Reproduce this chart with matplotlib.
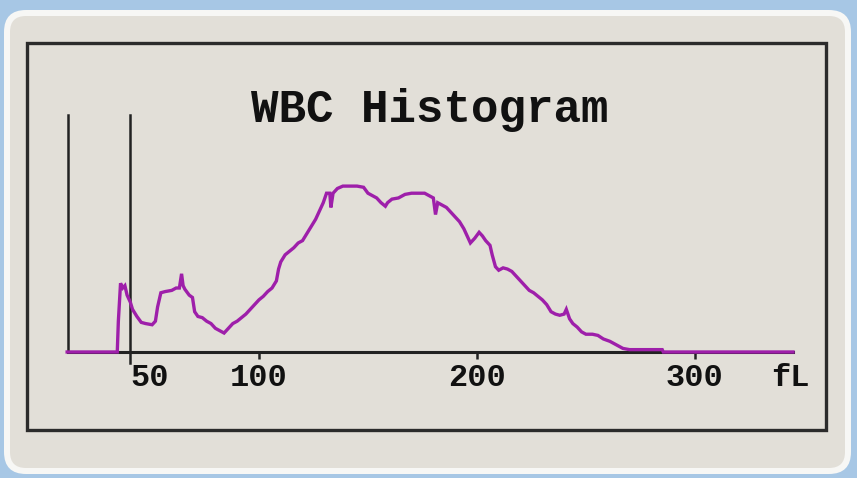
import matplotlib
matplotlib.use('Agg')
import matplotlib.pyplot as plt
from matplotlib.patches import FancyBboxPatch, Rectangle
from matplotlib.transforms import IdentityTransform

# WBC volume distribution (fL vs relative count)
volume_fl = [12, 35, 35.5, 36.5, 37.5, 38.5, 39.5, 41, 42, 44, 46, 48, 51, 52.5,
             53.5, 55, 57, 60, 62, 63.5, 64.5, 65.2, 66, 68, 69.5, 70.5, 72, 74,
             76, 78, 80, 82, 84, 86, 88, 90, 92, 94, 96, 98, 100, 102, 104, 106,
             108, 109, 110, 112, 114, 116, 118, 120, 122, 124, 126, 128, 129.5,
             131, 132.5, 133, 134, 136, 138.5, 142, 145, 148, 150, 152, 154, 156,
             158, 159, 161, 164, 167, 170, 173, 176, 178, 180, 181, 182, 184, 186,
             188, 190, 192, 194, 196, 197, 199, 201, 202.5, 204, 206, 207, 208.5,
             210, 212, 214, 216, 218, 220, 222, 224, 226, 228, 230, 232, 234, 236,
             238, 240, 241, 242.5, 244, 246, 248, 250, 253, 255.5, 258, 261, 263,
             265, 267, 270, 275, 280, 285, 285.5, 345]
counts = [0, 0, 13, 29, 27, 28, 24, 21, 18, 15, 12.5, 12, 11.5, 13,
          19, 25, 25.5, 26, 27, 27, 33, 28, 26.5, 24, 23, 17, 15, 14.5,
          13, 12, 10, 9, 8, 10, 12, 13, 14.5, 16, 18, 20, 22, 23.5, 25.5, 27,
          30, 35, 38, 41, 42.5, 44, 46, 47, 50, 53, 56, 60, 63,
          67, 67, 61, 67, 69, 70, 70, 70, 69.5, 67, 66, 65, 63,
          61.5, 63, 64.5, 65, 66.5, 67, 67, 67, 66, 65, 58, 63, 62, 61,
          59, 57, 55, 52, 48, 46, 48, 50.5, 49, 47, 45, 41, 36,
          34.5, 35.5, 35, 34, 32, 30, 28, 26, 25, 23.5, 22, 20, 17, 16,
          15.5, 16, 18, 14, 12, 10.5, 8.5, 7.5, 7.5, 7, 5.5, 4.5, 3.5,
          2.5, 1.5, 1, 1, 1, 1, 0, 0]

tick_pos = [50, 100, 200, 300, 344]
tick_labels = ['50', '100', '200', '300', 'fL']
marked_ticks = [100, 200, 300]
x_start, x_end = 12.4, 345
discriminator = 41

W, H = 857, 478
fig = plt.figure(figsize=(W / 100, H / 100), dpi=100)
fig.patch.set_facecolor('#a7c7e5')

# rounded panel with a white rim
px = IdentityTransform()
fig.patches.append(FancyBboxPatch((4, H - 474), 847, 464,
                                  boxstyle='round,pad=0,rounding_size=22',
                                  facecolor='#f7f7f5', edgecolor='none',
                                  transform=px, figure=fig, zorder=-3))
fig.patches.append(FancyBboxPatch((10, H - 468), 835, 452,
                                  boxstyle='round,pad=0,rounding_size=16',
                                  facecolor='#e2dfd8', edgecolor='none',
                                  transform=px, figure=fig, zorder=-2))
fig.patches.append(Rectangle((27, H - 430), 799, 387, facecolor='none',
                             edgecolor='#2b2b2b', linewidth=2.4,
                             transform=px, figure=fig, zorder=-1))

fig.text(430 / W, (H - 122) / H, 'WBC Histogram', ha='center', va='baseline',
         family='Liberation Mono', fontweight='bold', fontsize=33, color='#111111')

ax = fig.add_axes([68 / W, (H - 352) / H, (793 - 68) / W, (352 - 115) / H])
ax.set_zorder(2)
ax.set_facecolor('none')
ax.set_xlim(x_start, x_end)
ax.set_ylim(0, 100)
for s in ax.spines.values():
    s.set_visible(False)

ax.plot([x_start, x_end], [0, 0], color='#222222', lw=2.2, clip_on=False, zorder=2)
ax.plot([x_start, x_start], [0, 100], color='#222222', lw=1.8, clip_on=False, zorder=2)
ax.plot([discriminator, discriminator], [-4.5, 100], color='#222222', lw=1.8,
        clip_on=False, zorder=2)
ax.vlines(marked_ticks, -3, 0, color='#222222', lw=1.8, clip_on=False)

ax.plot(volume_fl, counts, color='#9e1faa', lw=2.4,
        solid_joinstyle='miter', clip_on=False, zorder=3)

ax.set_yticks([])
ax.set_xticks(tick_pos, tick_labels)
ax.tick_params(axis='x', length=0, pad=8)
for t in ax.get_xticklabels():
    t.set_family('Liberation Mono')
    t.set_fontweight('bold')
    t.set_fontsize(23)
    t.set_color('#111111')

fig.savefig('out.png', dpi=100, facecolor=fig.get_facecolor())
plt.close()
